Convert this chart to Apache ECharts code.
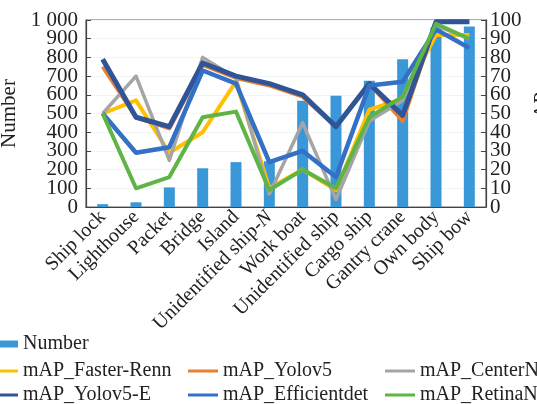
<!DOCTYPE html>
<html>
<head>
<meta charset="utf-8">
<script src="https://cdn.jsdelivr.net/npm/echarts@6/dist/echarts.min.js"></script>
<style>html,body{margin:0;padding:0;background:#fff;}#c{width:537px;height:404px;}</style>
</head>
<body>
<div id="c"></div>
<script>
var categories = ['Ship lock','Lighthouse','Packet','Bridge','Island','Unidentified ship-N','Work boat','Unidentified ship','Cargo ship','Gantry crane','Own body','Ship bow'];
var numberValues = [15, 25, 105, 207, 240, 245, 568, 595, 675, 790, 960, 965];
var fasterRenn   = [50, 57, 29, 40, 67, 10, 20,  9, 52, 58, 92, 92];
var yolov5       = [75, 48, 42, 76, 69, 65, 59, 43, 66, 46, 99, 99];
var centerNet    = [50, 70, 25, 80, 69,  7, 45,  4, 46, 57, 97, 90];
var yolov5E      = [79, 48, 43, 77, 70, 66, 60, 43, 66, 49, 99, 99];
var efficientdet = [50, 29, 32, 73, 66, 24, 30, 16, 65, 67, 95, 85];
var retinaNet    = [50, 10, 16, 48, 51,  9, 20, 10, 48, 59, 98, 90];
var leftTicks = [0, 100, 200, 300, 400, 500, 600, 700, 800, 900, 1000];
var rightTicks = [0, 10, 20, 30, 40, 50, 60, 70, 80, 90, 100];

var FONT = '"Liberation Serif","Times New Roman",serif';
var TXT = '#222';
var chart = echarts.init(document.getElementById('c'));

function lineSeries(name, data, color, width) {
  return {
    name: name, type: 'line', yAxisIndex: 1, data: data,
    symbol: 'none', itemStyle: { color: color },
    lineStyle: { color: color, width: width, join: 'round' }
  };
}
function legendAt(name, left, top, h) {
  return {
    data: [name], left: left, top: top, orient: 'horizontal',
    icon: 'rect', itemWidth: 30, itemHeight: h, padding: 0,
    textStyle: { fontFamily: FONT, fontSize: 20, color: TXT }
  };
}
function leftFmt(even) {
  return function (v) {
    var idx = leftTicks.indexOf(v);
    if ((idx % 2 === 0) !== even) return '';
    return v === 1000 ? '1 000' : String(v);
  };
}
function rightFmt(even) {
  return function (v) {
    var idx = rightTicks.indexOf(v);
    if ((idx % 2 === 0) !== even) return '';
    return String(v);
  };
}
var labelBase = { fontFamily: FONT, fontSize: 21, color: TXT };
function dupAxis(pos, max, interval, margin, fmt) {
  return {
    type: 'value', min: 0, max: max, interval: interval, position: pos,
    axisLine: { show: false }, axisTick: { show: false }, splitLine: { show: false },
    axisLabel: Object.assign({ margin: margin, showMinLabel: false, showMaxLabel: false, formatter: fmt }, labelBase)
  };
}

var option = {
  animation: false,
  backgroundColor: '#fff',
  grid: { left: 86, right: 51, top: 20, bottom: 197, containLabel: false, outerBoundsMode: 'none',
          show: true, borderColor: '#666', borderWidth: 1.2 },
  legend: [
    legendAt('Number', -12, 334, 7),
    legendAt('mAP_Faster-Renn', -12, 361, 3),
    legendAt('mAP_Yolov5', 188, 361, 3),
    legendAt('mAP_CenterNet', 385, 361, 3),
    legendAt('mAP_Yolov5-E', -12, 385, 3),
    legendAt('mAP_Efficientdet', 188, 385, 3),
    legendAt('mAP_RetinaNet', 385, 385, 3)
  ],
  xAxis: {
    type: 'category', data: categories, boundaryGap: true,
    axisLine: { lineStyle: { color: '#444', width: 1.2 } },
    axisTick: { inside: true, alignWithLabel: true, length: 5, lineStyle: { color: '#444' } },
    axisLabel: {
      rotate: 45, margin: 7, interval: 0, fontFamily: FONT, fontSize: 20, color: TXT,
      formatter: function (v) { return v === 'Unidentified ship-N' ? 'Unidentified ship-{i|N}' : v; },
      rich: { i: { fontStyle: 'italic', fontFamily: FONT, fontSize: 20, color: TXT } }
    }
  },
  yAxis: [
    {
      type: 'value', min: 0, max: 1000, interval: 100, position: 'left',
      name: 'Number', nameLocation: 'middle', nameGap: 39, nameRotate: 90,
      nameTextStyle: { fontFamily: FONT, fontSize: 21, color: TXT },
      axisLine: { show: true, lineStyle: { color: '#444', width: 1.2 } },
      axisTick: { show: true, inside: true, length: 5, lineStyle: { color: '#444' } },
      axisLabel: Object.assign({ margin: 8, showMinLabel: true, showMaxLabel: true, formatter: leftFmt(true) }, labelBase),
      splitLine: { show: true, lineStyle: { color: '#eef4f8', width: 1 } }
    },
    {
      type: 'value', min: 0, max: 100, interval: 10, position: 'right',
      name: 'mAP', nameLocation: 'middle', nameGap: 32, nameRotate: 90,
      nameTextStyle: { fontFamily: FONT, fontSize: 21, color: TXT },
      axisLine: { show: true, lineStyle: { color: '#444', width: 1.2 } },
      axisTick: { show: true, inside: true, length: 5, lineStyle: { color: '#444' } },
      axisLabel: Object.assign({ margin: 4, showMinLabel: true, showMaxLabel: true, formatter: rightFmt(true) }, labelBase),
      splitLine: { show: false }
    },
    dupAxis('left', 1000, 100, 8, leftFmt(false)),
    dupAxis('right', 100, 10, 4, rightFmt(false))
  ],
  series: [
    { name: 'Number', type: 'bar', yAxisIndex: 0, data: numberValues, barWidth: 11, itemStyle: { color: '#3A98D8' } },
    lineSeries('mAP_Faster-Renn', fasterRenn, '#FFC000', 4),
    lineSeries('mAP_Yolov5', yolov5, '#ED7D31', 4),
    lineSeries('mAP_CenterNet', centerNet, '#A5A5A5', 3.5),
    lineSeries('mAP_Yolov5-E', yolov5E, '#2F5597', 5),
    lineSeries('mAP_Efficientdet', efficientdet, '#3370C6', 4.5),
    lineSeries('mAP_RetinaNet', retinaNet, '#5FB446', 4)
  ]
};
chart.setOption(option);
</script>
</body>
</html>
